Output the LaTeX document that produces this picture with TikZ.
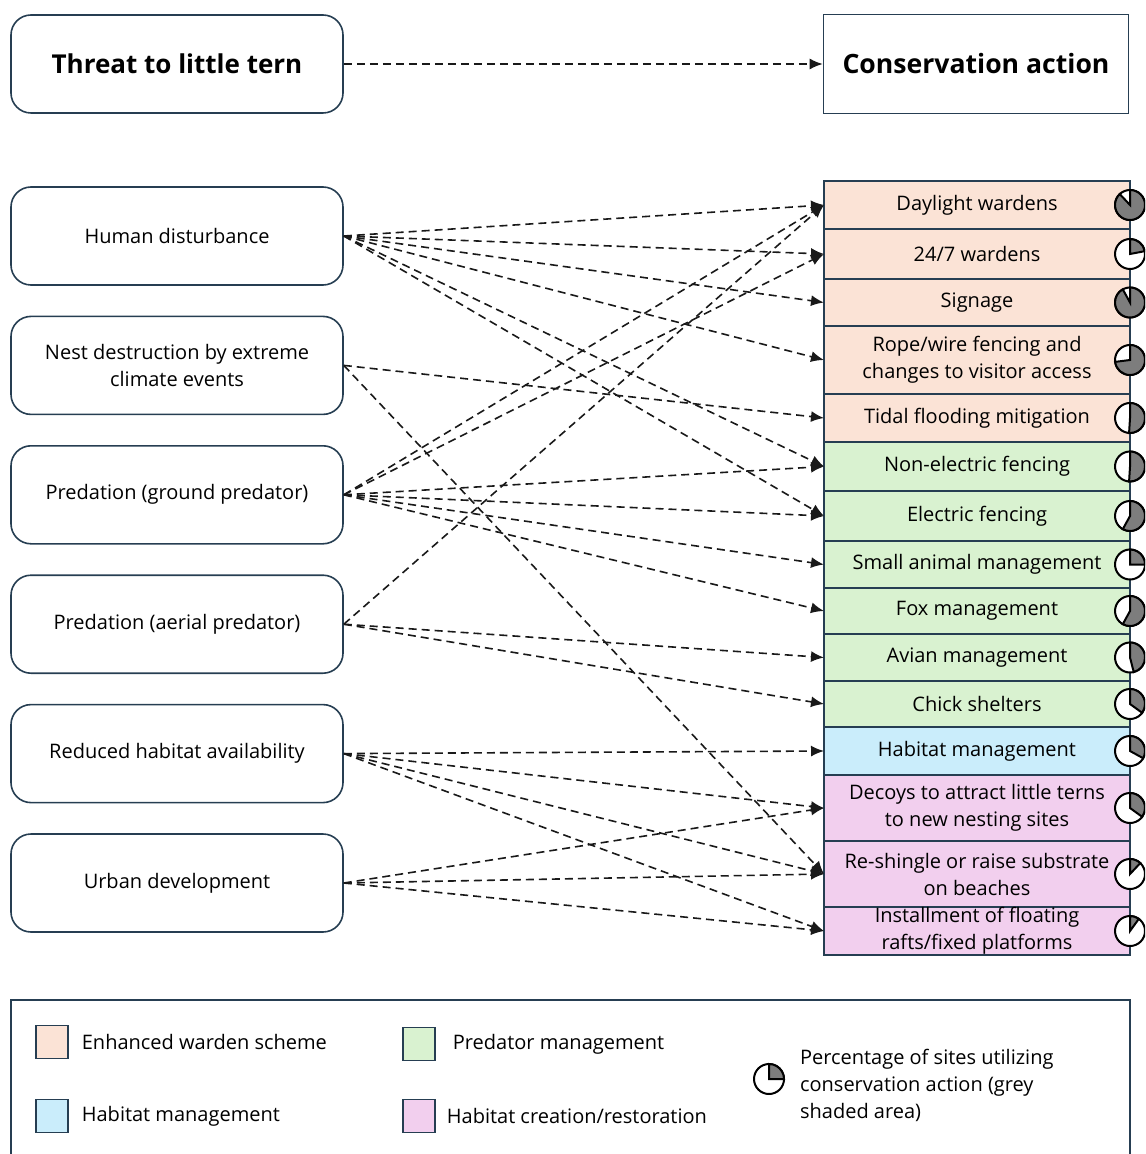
\documentclass[tikz,border=0pt]{standalone}
\usepackage{fontspec}
\setmainfont{Open Sans}
\usetikzlibrary{arrows.meta,positioning}

\definecolor{boxline}{RGB}{38,62,82}
\definecolor{wardenfill}{HTML}{FBE3D6}
\definecolor{predatorfill}{HTML}{D9F2D0}
\definecolor{habitatfill}{HTML}{CAEDFB}
\definecolor{creationfill}{HTML}{F2CFEE}
\definecolor{piegrey}{RGB}{125,125,125}

\tikzset{
    pics/sitepie/.style={code={
        \filldraw[fill=white, draw=black, line width=1pt] (0,0) circle[radius=7.5pt];
        \filldraw[fill=piegrey, draw=black, line width=1pt] (0,0) -- (90:7.5pt)
            arc[start angle=90, end angle={90-3.6*#1}, radius=7.5pt] -- cycle;
    }}
}

\begin{document}
\begin{tikzpicture}[
    x=0.5pt, y=-0.5pt, % one unit is one pixel of the layout
    >={Latex[length=6.5pt,width=5.5pt]}, % solid arrow tips
    font=\fontsize{10}{13.5}\selectfont,
    node distance=14.9pt, % gap between the threat boxes
    threat/.style={draw=boxline, line width=0.8pt, rounded corners=10pt,
        minimum width=166pt, minimum height=49pt, align=center},
    action/.style={draw=boxline, line width=0.8pt, minimum width=153pt,
        inner sep=0pt, outer sep=0pt, align=center},
    link/.style={->, dash pattern=on 4pt off 2.5pt, line width=0.8pt, black!90},
    legendbox/.style={draw=boxline, line width=0.8pt, minimum width=16pt, minimum height=16.5pt}
]
\useasboundingbox (0,0) rectangle (1145,1154);
\clip (0,0) rectangle (1145,1154);

% Headers
\node[threat, font=\bfseries\fontsize{13}{15}\selectfont] (TH) at (177,64) {Threat to little tern};
\node[draw=boxline, line width=0.8pt, minimum width=152.5pt, minimum height=49.5pt,
    font=\bfseries\fontsize{13.3}{15}\selectfont] (CA) at (976,64) {Conservation action};
\path (TH.east) edge[link] (CA.west);

% Threats
\node[threat] (HD) at (177,236) {Human disturbance};
\node[threat] (ND) [below=of HD] {Nest destruction by extreme\\climate events};
\node[threat] (PG) [below=of ND] {Predation (ground predator)};
\node[threat] (PA) [below=of PG] {Predation (aerial predator)};
\node[threat] (RH) [below=of PA] {Reduced habitat availability};
\node[threat] (UD) [below=of RH] {Urban development};

% Conservation actions
\node[action, fill=wardenfill, minimum height=24pt, anchor=north] (A1) at (977,181) {Daylight wardens};
\node[action, fill=wardenfill, minimum height=25pt] (A2) [below=0pt of A1] {24/7 wardens};
\node[action, fill=wardenfill, minimum height=23.5pt] (A3) [below=0pt of A2] {Signage};
\node[action, fill=wardenfill, minimum height=34pt] (A4) [below=0pt of A3] {Rope/wire fencing and\\changes to visitor access};
\node[action, fill=wardenfill, minimum height=24pt] (A5) [below=0pt of A4] {Tidal flooding mitigation};
\node[action, fill=predatorfill, minimum height=24.5pt] (A6) [below=0pt of A5] {Non-electric fencing};
\node[action, fill=predatorfill, minimum height=25pt] (A7) [below=0pt of A6] {Electric fencing};
\node[action, fill=predatorfill, minimum height=23.5pt] (A8) [below=0pt of A7] {Small animal management};
\node[action, fill=predatorfill, minimum height=23pt] (A9) [below=0pt of A8] {Fox management};
\node[action, fill=predatorfill, minimum height=23.5pt] (A10) [below=0pt of A9] {Avian management};
\node[action, fill=predatorfill, minimum height=23pt] (A11) [below=0pt of A10] {Chick shelters};
\node[action, fill=habitatfill, minimum height=24pt] (A12) [below=0pt of A11] {Habitat management};
\node[action, fill=creationfill, minimum height=33pt] (A13) [below=0pt of A12] {Decoys to attract little terns\\to new nesting sites};
\node[action, fill=creationfill, minimum height=33pt] (A14) [below=0pt of A13] {Re-shingle or raise substrate\\on beaches};
\node[action, fill=creationfill, minimum height=24pt] (A15) [below=0pt of A14] {Installment of floating\\rafts/fixed platforms};

% Share of sites for each action
\foreach \n/\p in {A1/88, A2/22, A3/92, A4/73, A5/51, A6/51, A7/58, A8/25,
    A9/58, A10/46, A11/35, A12/33, A13/35, A14/12, A15/10}
    \pic at (\n.east) {sitepie=\p};

% Threat to action links
\path (HD.east) edge[link] (A1.west);
\path (HD.east) edge[link] (A2.west);
\path (HD.east) edge[link] (A3.west);
\path (HD.east) edge[link] (A4.west);
\path (HD.east) edge[link] (A6.west);
\path (HD.east) edge[link] (A7.west);

\path (ND.east) edge[link] (A5.west);
\path (ND.east) edge[link] (A14.west);

\path (PG.east) edge[link] (A1.west);
\path (PG.east) edge[link] (A2.west);
\path (PG.east) edge[link] (A6.west);
\path (PG.east) edge[link] (A7.west);
\path (PG.east) edge[link] (A8.west);
\path (PG.east) edge[link] (A9.west);

\path (PA.east) edge[link] (A1.west);
\path (PA.east) edge[link] (A10.west);
\path (PA.east) edge[link] (A11.west);

\path (RH.east) edge[link] (A12.west);
\path (RH.east) edge[link] (A13.west);
\path (RH.east) edge[link] (A14.west);
\path (RH.east) edge[link] (A15.west);

\path (UD.east) edge[link] (A13.west);
\path (UD.east) edge[link] (A14.west);
\path (UD.east) edge[link] (A15.west);

% Legend
\draw[boxline, line width=0.8pt] (11,1000) rectangle (1130,1200);
\node[legendbox, fill=wardenfill] (L1) at (52,1042) {};
\node[legendbox, fill=predatorfill] (L2) at (419,1044) {};
\node[legendbox, fill=habitatfill] (L3) at (52,1116) {};
\node[legendbox, fill=creationfill] (L4) at (419,1116) {};
\node[right=3pt of L1] {Enhanced warden scheme};
\node[right=5pt of L2] {Predator management};
\node[right=2pt of L4] {Habitat creation/restoration};
\node[right=3pt of L3] {Habitat management};
\coordinate (LP) at (769,1079);
\pic at (LP) {sitepie=25};
\node[anchor=west, align=left] at (793,1085) {Percentage of sites utilizing\\conservation action (grey\\shaded area)};

\end{tikzpicture}
\end{document}
